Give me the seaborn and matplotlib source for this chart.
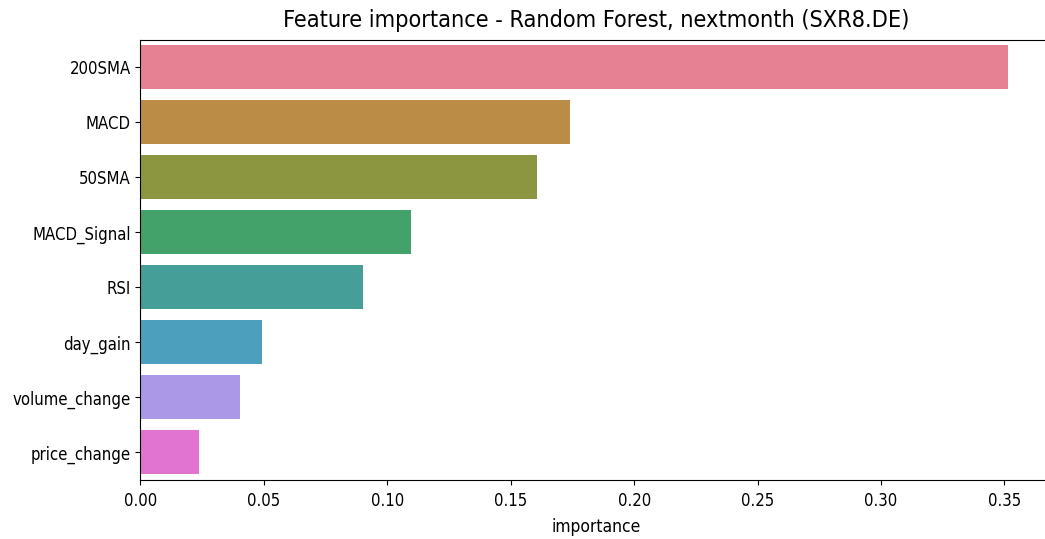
import matplotlib
matplotlib.use("Agg")
import matplotlib.pyplot as plt
import seaborn as sns
import pandas as pd

# feature importances
features = ['200SMA', 'MACD', '50SMA', 'MACD_Signal', 'RSI',
            'day_gain', 'volume_change', 'price_change']
importance = [0.3513, 0.1739, 0.1606, 0.1098, 0.0900, 0.0491, 0.0403, 0.0238]

df = pd.DataFrame({'feature': features, 'importance': importance})

plt.rcParams['font.family'] = ['DejaVu Sans']
plt.rcParams['font.stretch'] = 'condensed'

fig = plt.figure(figsize=(10.45, 5.39), dpi=100)
ax = fig.add_axes([0.1344, 0.1095, 0.8713, 0.8163])

sns.barplot(data=df, x='importance', y='feature', hue='feature',
            palette=sns.color_palette('husl', len(features)), legend=False, ax=ax)

ax.set_xlim(0, max(importance) * 1.05)
ax.set_ylabel('')
ax.set_xlabel('importance', fontsize=12.5, labelpad=6)
ax.set_title('Feature importance - Random Forest, nextmonth (SXR8.DE)',
             fontsize=16.8, pad=9)
ax.tick_params(labelsize=12)
ax.tick_params(axis='x', pad=5)
# the right edge of the axes falls just outside the picture
ax.spines['right'].set_visible(False)

fig.savefig('out.png', dpi=100)
